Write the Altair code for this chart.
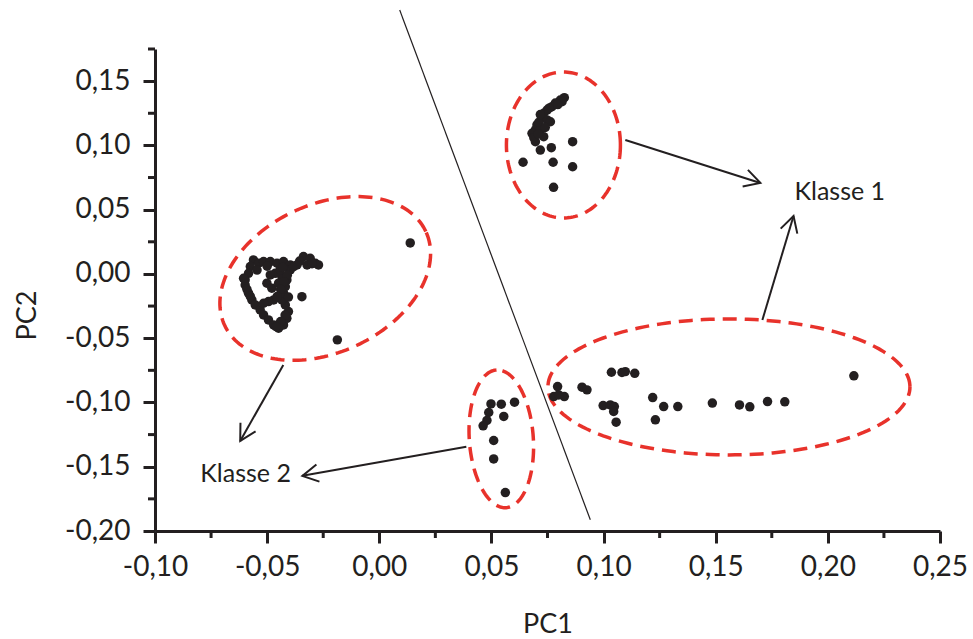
import math
import numpy as np
import pandas as pd
import altair as alt

# Score plot of the first two principal components
X_DOMAIN = [-0.10, 0.25]
Y_DOMAIN = [-0.20, 0.175]
W, H = 785, 482
KX = W / (X_DOMAIN[1] - X_DOMAIN[0])   # pixels per PC1 unit
KY = H / (Y_DOMAIN[1] - Y_DOMAIN[0])   # pixels per PC2 unit

INK = "#231f20"
RED = "#e8322b"
FONT = "Lato"

x_major = [-0.10, -0.05, 0.00, 0.05, 0.10, 0.15, 0.20, 0.25]
y_major = [-0.20, -0.15, -0.10, -0.05, 0.00, 0.05, 0.10, 0.15]
x_minor = [-0.075, -0.025, 0.025, 0.075, 0.125, 0.175, 0.225]
y_minor = [-0.175, -0.125, -0.075, -0.025, 0.025, 0.075, 0.125, 0.175]

# (PC1, PC2) scores per group
klasse1_upper = [
    (0.0825, 0.1371), (0.0807, 0.1353), (0.0785, 0.1330), (0.0770, 0.1301),
    (0.0748, 0.1275), (0.0733, 0.1250), (0.0726, 0.1223), (0.0748, 0.1198),
    (0.0763, 0.1184), (0.0703, 0.1159), (0.0696, 0.1120), (0.0718, 0.1120),
    (0.0681, 0.1094), (0.0733, 0.1068), (0.0696, 0.1029), (0.0718, 0.0964),
    (0.0767, 0.0982), (0.0862, 0.1029), (0.0641, 0.0869), (0.0775, 0.0869),
    (0.0862, 0.0834), (0.0777, 0.0674), (0.0815, 0.1340), (0.0757, 0.1290),
    (0.0711, 0.1180), (0.0740, 0.1140), (0.0796, 0.1318), (0.0718, 0.1240),
    (0.0689, 0.1060), (0.0708, 0.1090),
]
klasse1_lower = [
    (0.0795, -0.0876), (0.0778, -0.0954), (0.0825, -0.0954), (0.0800, -0.0941),
    (0.0904, -0.0881), (0.0926, -0.0902), (0.1035, -0.0765), (0.1082, -0.0767),
    (0.1097, -0.0760), (0.1139, -0.0773), (0.0998, -0.1024), (0.1030, -0.1019),
    (0.1048, -0.1032), (0.1045, -0.1070), (0.1056, -0.1153), (0.1219, -0.0962),
    (0.1268, -0.1032), (0.1331, -0.1032), (0.1231, -0.1135), (0.1485, -0.1005),
    (0.1606, -0.1019), (0.1652, -0.1034), (0.1731, -0.0993), (0.1808, -0.0995),
    (0.2116, -0.0793),
]
klasse2_main = [
    (-0.0561, 0.0109), (-0.0538, 0.0083), (-0.0516, 0.0096), (-0.0486, 0.0096),
    (-0.0456, 0.0083), (-0.0427, 0.0096), (-0.0397, 0.0070), (-0.0367, 0.0070),
    (-0.0338, 0.0135), (-0.0308, 0.0122), (-0.0285, 0.0083), (-0.0271, 0.0070),
    (-0.0322, 0.0070), (-0.0575, 0.0057), (-0.0583, 0.0005), (-0.0598, -0.0047),
    (-0.0598, -0.0086), (-0.0583, -0.0150), (-0.0568, -0.0202), (-0.0553, -0.0241),
    (-0.0531, -0.0280), (-0.0516, -0.0319), (-0.0494, -0.0358), (-0.0471, -0.0397),
    (-0.0449, -0.0422), (-0.0427, -0.0397), (-0.0412, -0.0345), (-0.0405, -0.0293),
    (-0.0419, -0.0241), (-0.0434, -0.0202), (-0.0427, -0.0150), (-0.0419, -0.0099),
    (-0.0412, -0.0047), (-0.0434, -0.0021), (-0.0464, 0.0005), (-0.0486, -0.0008),
    (-0.0501, -0.0072), (-0.0479, -0.0111), (-0.0471, -0.0202), (-0.0494, -0.0215),
    (-0.0516, -0.0228), (-0.0345, -0.0177), (-0.0442, 0.0031), (-0.0449, -0.0072),
    (-0.0397, 0.0031), (-0.0382, 0.0057), (-0.0605, -0.0034), (0.0138, 0.0241),
    (-0.0187, -0.0513), (-0.0430, 0.0050), (-0.0410, -0.0010), (-0.0425, -0.0060),
    (-0.0440, -0.0120), (-0.0405, -0.0180), (-0.0420, -0.0320), (-0.0440, -0.0370),
    (-0.0460, -0.0410), (-0.0545, 0.0030), (-0.0500, 0.0060), (-0.0355, 0.0100),
    (-0.0300, 0.0080), (-0.0590, -0.0120), (-0.0575, -0.0175), (-0.0455, -0.0175),
]
klasse2_small = [
    (0.0498, -0.1011), (0.0544, -0.1013), (0.0603, -0.0998), (0.0488, -0.1078),
    (0.0555, -0.1109), (0.0480, -0.1140), (0.0463, -0.1182), (0.0510, -0.1296),
    (0.0510, -0.1439), (0.0562, -0.1701),
]

# Group outlines: centre (PC1, PC2), semi-axes in px, tilt in degrees
outlines = [
    ("upper", (0.0821, 0.1003), 57, 73, 0),
    ("main", (-0.0241, -0.0035), 111, 74, 25),
    ("small", (0.0544, -0.1283), 69, 32, 94),
    ("lower", (0.1559, -0.0879), 181, 68, 0),
]

# Separating line and arrows (start PC1, start PC2, end PC1, end PC2)
divider = [(0.0091, 0.2053, 0.0941, -0.1913)]
arrows = [
    (0.1097, 0.1042, 0.1699, 0.0708),
    (0.1708, -0.0358, 0.1847, 0.0451),
    (-0.0428, -0.0708, -0.0620, -0.1299),
    (0.0388, -0.1345, -0.0343, -0.1571),
]
labels = [("Klasse 1", 0.1851, 0.0575), ("Klasse 2", -0.0798, -0.1617)]

# ---- tables ----
pts = pd.DataFrame(
    [(a, b, g) for g, rows in [("k1u", klasse1_upper), ("k1l", klasse1_lower),
                                ("k2m", klasse2_main), ("k2s", klasse2_small)]
     for a, b in rows],
    columns=["pc1", "pc2", "group"],
)

ring_rows = []
for name, (cx, cy), a, b, tilt in outlines:
    th = math.radians(tilt)
    for i, t in enumerate(np.linspace(0, 2 * np.pi, 181)):
        ux = a * math.cos(th) * math.cos(t) - b * math.sin(th) * math.sin(t)
        uy = a * math.sin(th) * math.cos(t) + b * math.cos(th) * math.sin(t)
        ring_rows.append((cx + ux / KX, cy + uy / KY, name, i))
rings = pd.DataFrame(ring_rows, columns=["pc1", "pc2", "ring", "step"])

div_df = pd.DataFrame(divider, columns=["pc1", "pc2", "pc1_end", "pc2_end"])
arr_df = pd.DataFrame(arrows, columns=["pc1", "pc2", "pc1_end", "pc2_end"])
arr_df["angle"] = [
    math.degrees(math.atan2(-(r.pc2_end - r.pc2) * KY, (r.pc1_end - r.pc1) * KX)) % 360
    for r in arr_df.itertuples()
]
lab_df = pd.DataFrame(labels, columns=["text", "pc1", "pc2"])
xminor_df = pd.DataFrame({"pc1": x_minor})
yminor_df = pd.DataFrame({"pc2": y_minor})

# ---- scales & axes ----
label_expr = "replace(replace(format(datum.value, '.2f'), '.', ','), '\u2212', '-')"
xs = alt.Scale(domain=X_DOMAIN, nice=False, zero=False)
ys = alt.Scale(domain=Y_DOMAIN, nice=False, zero=False)
x_axis = alt.Axis(
    values=x_major, labelExpr=label_expr, grid=False, title="PC1",
    domainColor=INK, domainWidth=3, tickColor=INK, tickWidth=3, tickSize=12,
    labelFont=FONT, labelFontSize=28, labelColor=INK, labelPadding=10,
    labelFlush=False, labelOverlap=False,
    titleFont=FONT, titleFontSize=27, titleFontWeight="normal", titleColor=INK,
    titleY=101, titleBaseline="alphabetic",
)
y_axis = alt.Axis(
    values=y_major, labelExpr=label_expr, grid=False, title="PC2",
    domainColor=INK, domainWidth=3, tickColor=INK, tickWidth=3, tickSize=12,
    labelFont=FONT, labelFontSize=28, labelColor=INK, labelPadding=13,
    labelFlush=False, labelOverlap=False,
    titleFont=FONT, titleFontSize=27, titleFontWeight="normal", titleColor=INK,
    titleAngle=270, titleX=-120, titleY=266, titleBaseline="alphabetic",
    titleAlign="center",
)
X = alt.X("pc1:Q", scale=xs, axis=x_axis)
Y = alt.Y("pc2:Q", scale=ys, axis=y_axis)

# ---- layers ----
ring_layer = alt.Chart(rings).mark_line(
    color=RED, strokeWidth=3.5, strokeDash=[14, 8], strokeCap="butt"
).encode(x=X, y=Y, detail="ring:N", order="step:Q")

div_layer = alt.Chart(div_df).mark_rule(color=INK, strokeWidth=1.2).encode(
    x=X, y=Y, x2="pc1_end:Q", y2="pc2_end:Q"
)

arrow_shaft = alt.Chart(arr_df).mark_rule(color=INK, strokeWidth=2).encode(
    x=X, y=Y, x2="pc1_end:Q", y2="pc2_end:Q"
)
arrow_head = alt.Chart(arr_df).mark_point(
    shape="M-1,-0.55L0,0L-1,0.55", filled=False, color=INK, strokeWidth=2,
    size=1000, opacity=1,
).encode(
    x=alt.X("pc1_end:Q", scale=xs, axis=x_axis),
    y=alt.Y("pc2_end:Q", scale=ys, axis=y_axis),
    angle=alt.Angle("angle:Q", scale=None),
)

point_layer = alt.Chart(pts).mark_circle(color=INK, size=90, opacity=1).encode(
    x=X, y=Y
)

text_layer = alt.Chart(lab_df).mark_text(
    align="left", baseline="alphabetic", font=FONT, fontSize=25, color=INK
).encode(x=X, y=Y, text="text:N")

xminor_layer = alt.Chart(xminor_df).mark_rule(color=INK, strokeWidth=3).encode(
    x=X, y=alt.value(H), y2=alt.value(H + 7)
)
yminor_layer = alt.Chart(yminor_df).mark_rule(color=INK, strokeWidth=3).encode(
    y=Y, x=alt.value(0), x2=alt.value(-7)
)

chart = alt.layer(
    ring_layer, div_layer, arrow_shaft, arrow_head, point_layer, text_layer,
    xminor_layer, yminor_layer,
).properties(
    width=W, height=H,
    autosize=alt.AutoSizeParams(type="none"),
    padding={"left": 155, "top": 49, "right": 33, "bottom": 108},
    background="white",
).configure_view(stroke=None)

chart.save("out.html", embed_options={"renderer": "svg", "actions": False})
